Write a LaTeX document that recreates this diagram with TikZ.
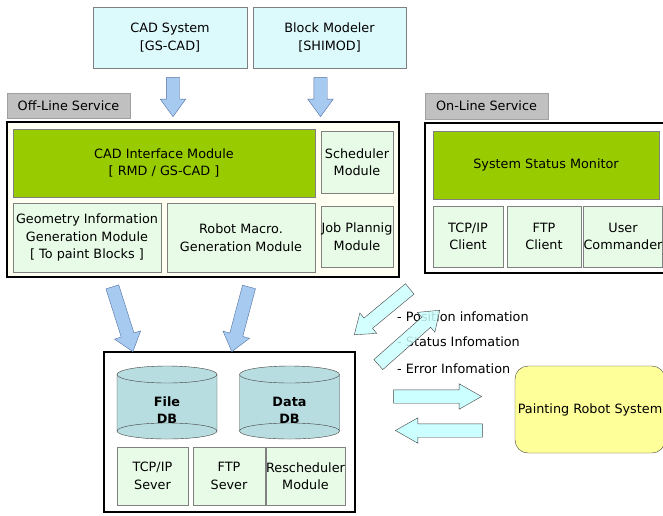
\documentclass[tikz,border=0pt]{standalone}
\usepackage{fontspec}
\setmainfont{DejaVu Sans}
\usepackage{tikz}
\usetikzlibrary{shapes.arrows}
\definecolor{cadfill}{RGB}{220,249,251}
\definecolor{creamfill}{RGB}{255,255,242}
\definecolor{greenfill}{RGB}{153,204,0}
\definecolor{modfill}{RGB}{231,251,231}
\definecolor{tagfill}{RGB}{192,192,192}
\definecolor{tagline}{RGB}{160,160,160}
\definecolor{bluefill}{RGB}{166,202,240}
\definecolor{blueline}{RGB}{80,110,160}
\definecolor{infofill}{RGB}{204,255,255}
\definecolor{dbfill}{RGB}{184,221,224}
\definecolor{robotfill}{RGB}{255,255,153}

\begin{document}
\begin{tikzpicture} [x=1pt, y=-1pt,
    font=\fontsize{12.8}{17.5}\selectfont,
    box/.style = {inner sep=0, align=center},
    srcbox/.style = {box, draw=gray, fill=cadfill},
    tagbox/.style = {box, draw=tagline, fill=tagfill, line width=1pt},
    frame/.style = {box, draw=black, line width=2.5pt},
    mainmod/.style = {box, draw=gray, fill=greenfill},
    submod/.style = {box, draw=gray, fill=modfill},
    ]
        \tikzset{bigarrow/.style = {single arrow, anchor=tip, draw=blueline, fill=bluefill, inner xsep=0, inner ysep=6.5pt}}
        \tikzset{infoarrow/.style = {single arrow, anchor=tip, draw=black!75, fill=infofill, fill opacity=0.85, inner xsep=0, inner ysep=6.5pt}}
    \useasboundingbox (0,0) rectangle (663,515);

    % sources
    \node[srcbox, minimum width=154, minimum height=61] at (170,37.5) (cad) {CAD System\\{[GS-CAD]}};
    \node[srcbox, minimum width=153, minimum height=61] at (329.5,37.5) (shimod) {Block Modeler\\{[SHIMOD]}};

    % off-line service
    \node[tagbox, minimum width=123, minimum height=25] at (68.5,105.5) (offtag) {Off-Line Service};
    \node[frame, fill=creamfill, minimum width=392, minimum height=155] at (203,199.5) (offline) {};
    \node[mainmod, minimum width=302, minimum height=68] at (164,163) (cadif) {CAD Interface Module\\{[ RMD / GS-CAD ]}};
    \node[submod, minimum width=72, minimum height=62] at (357,162) (sched) {Scheduler\\Module};
    \node[submod, minimum width=148, minimum height=69] at (87,237.5) (geom) {Geometry Information\\Generation Module\\{[ To paint Blocks ]}};
    \node[submod, minimum width=148, minimum height=69] at (241,237.5) (macro) {Robot Macro.\\Generation Module};
    \node[submod, minimum width=72, minimum height=61] at (357,236.5) (job) {Job Plannig\\Module};

    % on-line service
    \node[tagbox, minimum width=123, minimum height=26] at (486.5,106) (ontag) {On-Line Service};
    \node[frame, fill=white, minimum width=245, minimum height=150] at (547.5,198) (online) {};
    \node[mainmod, minimum width=226, minimum height=68] at (546,165) (monitor) {System Status Monitor};
    \node[submod, minimum width=70, minimum height=61] at (468,236.5) (tcpc) {TCP/IP\\Client};
    \node[submod, minimum width=74, minimum height=61] at (544,236.5) (ftpc) {FTP\\Client};
    \node[submod, minimum width=72, minimum height=61] at (623,236.5) (user) {User\\Commander};

    % data server
    \node[frame, fill=white, minimum width=251, minimum height=160] at (229.5,432) (server) {};
    \foreach \cx/\nm/\txt in {167/file/File, 289.5/data/Data} {
        \fill[dbfill] (\cx-50,374.5) -- (\cx-50,431) arc (180:0:50 and 8) -- (\cx+50,374.5) arc (0:-180:50 and 8.5) -- cycle;
        \draw[black!75] (\cx-50,374.5) -- (\cx-50,431) arc (180:0:50 and 8) -- (\cx+50,374.5);
        \draw[black!75] (\cx,374.5) ellipse (50 and 8.5);
        \draw[black!75] (\cx-50,431) arc (180:360:50 and 8);
        \node[box, font=\fontsize{12.8}{17}\selectfont\bfseries] at (\cx,410.5) (\nm) {\txt\\DB};
    }
    \node[submod, minimum width=71, minimum height=58] at (152.5,476) (tcps) {TCP/IP\\Sever};
    \node[submod, minimum width=72, minimum height=58] at (229,476) (ftps) {FTP\\Sever};
    \node[submod, minimum width=71, minimum height=58] at (305.5,476) (resched) {Rescheduler\\Module};

    % robot
    \node[box, draw=black!75, fill=robotfill, rounded corners=13, minimum width=150, minimum height=87] at (590,409.5) (robot) {Painting Robot System};

    % info texts
    \node[anchor=west, inner sep=0] at (397,317) (pos) {- Position infomation};
    \node[anchor=west, inner sep=0] at (397,342) (stat) {- Status Infomation};
    \node[anchor=west, inner sep=0] at (397,369) (err) {- Error Infomation};

    % block arrows, placed by their tips
    \node[bigarrow, single arrow head extend=6pt, single arrow tip angle=72, minimum height=39, rotate=-90] at (173,117) (a1) {};
    \node[bigarrow, single arrow head extend=6pt, single arrow tip angle=72, minimum height=39, rotate=-90] at (320.5,117) (a2) {};
    \node[bigarrow, single arrow head extend=7pt, single arrow tip angle=76, minimum height=68, rotate=-72.4] at (133,352) (a3) {};
    \node[bigarrow, single arrow head extend=7pt, single arrow tip angle=76, minimum height=67, rotate=-104.9] at (231.7,352) (a4) {};
    \node[infoarrow, single arrow head extend=6.5pt, single arrow tip angle=72, minimum height=72, rotate=-140.4] at (354,335) (i1) {};
    \node[infoarrow, single arrow head extend=6.5pt, single arrow tip angle=72, minimum height=82, rotate=41.5] at (440,310) (i2) {};
    \node[infoarrow, fill opacity=1, single arrow head extend=6pt, single arrow tip angle=59, minimum height=88] at (482,396.5) (i3) {};
    \node[infoarrow, fill opacity=1, single arrow head extend=6pt, single arrow tip angle=59, minimum height=87, rotate=180] at (395,430.5) (i4) {};
\end{tikzpicture}
\end{document}
